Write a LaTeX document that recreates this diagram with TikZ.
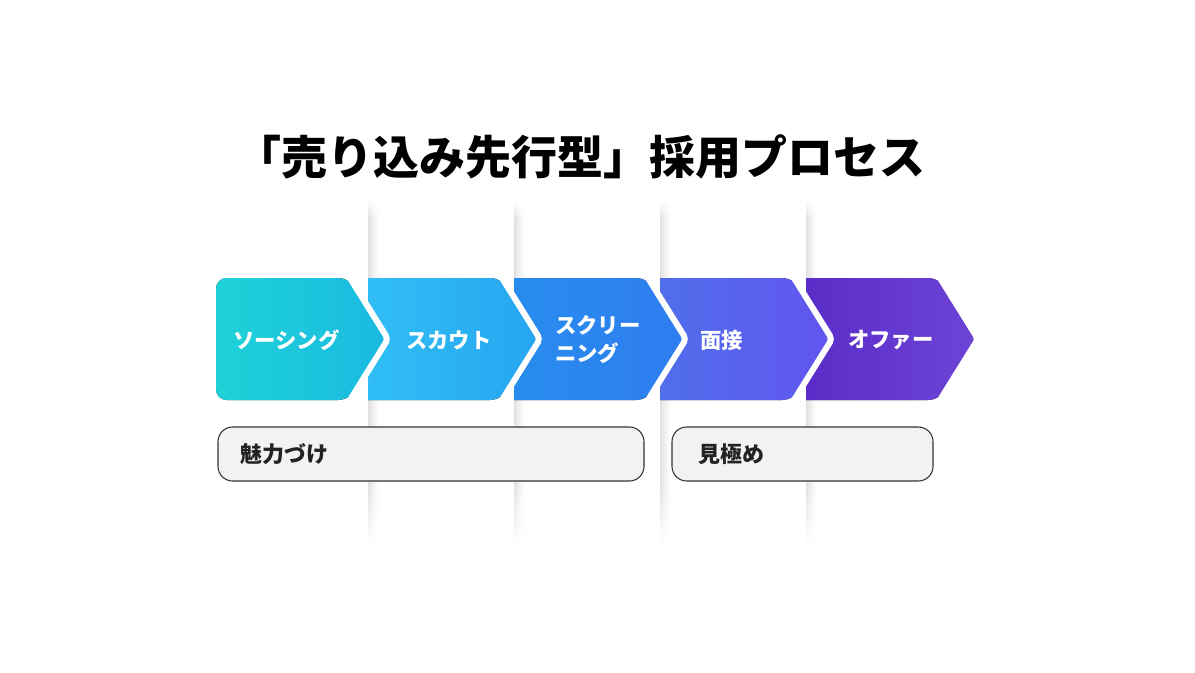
\documentclass[tikz,border=0pt]{standalone}
\usepackage{fontspec}
\setmainfont{Noto Sans CJK JP}
\usepackage{xcolor}
\usepackage{tikz}
\usetikzlibrary{positioning,calc}

\definecolor{sourcingL}{HTML}{1ED2D7}
\definecolor{sourcingR}{HTML}{19B9E1}
\definecolor{scoutL}{HTML}{30BEF5}
\definecolor{scoutR}{HTML}{26A5F0}
\definecolor{screenL}{HTML}{288CEE}
\definecolor{screenR}{HTML}{2F7DF0}
\definecolor{interviewL}{HTML}{506EEB}
\definecolor{interviewR}{HTML}{6255F0}
\definecolor{offerL}{HTML}{5A2DC8}
\definecolor{offerR}{HTML}{6E44D7}
\definecolor{boxgray}{HTML}{F2F2F2}
\definecolor{boxline}{HTML}{333333}
\definecolor{labeltext}{HTML}{222222}

\begin{document}
\begin{tikzpicture}[x=0.75pt, y=-0.75pt,
  stagetext/.style={text=white, font=\bfseries\fontsize{16}{21}\selectfont,
                    anchor=west, inner sep=0pt, align=left},
  phasebox/.style={draw=boxline, line width=0.8pt, fill=boxgray, rounded corners=11pt},
  phasetext/.style={text=labeltext, font=\bfseries\fontsize{16.5}{20}\selectfont,
                    anchor=west, inner sep=0pt},
  gap/.style={draw=white, line width=4.5pt}]

\useasboundingbox (0,0) rectangle (1195,672);

% Title
\node (title) at (580,157)
  {\bfseries\fontsize{34.5}{40}\selectfont 「売り込み先行型」採用プロセス};

% Shadow strips (gray at the left edge, fading to the right and at both ends)
\foreach \x in {368,514,660,806}{
  \foreach \i in {0,...,11}{
    \pgfmathsetmacro\stripval{12*(1-\i/12)^1.5}
    \fill[top color=white, bottom color=black!\stripval]
      (\x+\i,200) rectangle (\x+\i+1.3,218);
    \fill[black!\stripval] (\x+\i,217.5) rectangle (\x+\i+1.3,485.5);
    \fill[top color=black!\stripval, bottom color=white]
      (\x+\i,485) rectangle (\x+\i+1.3,545);
  }
}

% Stages (right to left, so each gap lies on the next one)
\fill[left color=offerL, right color=offerR]
  (806,339) -- (806,278) [rounded corners=9pt] -- (940,278) [rounded corners=3pt]
  -- (978,339) [rounded corners=9pt] -- (940,400) [sharp corners] -- (806,400) -- cycle;
\draw[gap] (940,278) [rounded corners=3pt] -- (978,339) -- (940,400);

\fill[left color=interviewL, right color=interviewR]
  (660,339) -- (660,278) [rounded corners=9pt] -- (794,278) [rounded corners=3pt]
  -- (832,339) [rounded corners=9pt] -- (794,400) [sharp corners] -- (660,400) -- cycle;
\draw[gap] (794,278) [rounded corners=3pt] -- (832,339) -- (794,400);

\fill[left color=screenL, right color=screenR]
  (514,339) -- (514,278) [rounded corners=9pt] -- (648,278) [rounded corners=3pt]
  -- (686,339) [rounded corners=9pt] -- (648,400) [sharp corners] -- (514,400) -- cycle;
\draw[gap] (648,278) [rounded corners=3pt] -- (686,339) -- (648,400);

\fill[left color=scoutL, right color=scoutR]
  (368,339) -- (368,278) [rounded corners=9pt] -- (502,278) [rounded corners=3pt]
  -- (540,339) [rounded corners=9pt] -- (502,400) [sharp corners] -- (368,400) -- cycle;
\draw[gap] (502,278) [rounded corners=3pt] -- (540,339) -- (502,400);

\fill[left color=sourcingL, right color=sourcingR]
  (216,339) [rounded corners=8pt] -- (216,278) [rounded corners=9pt] -- (350,278) [rounded corners=3pt]
  -- (388,339) [rounded corners=9pt] -- (350,400) [rounded corners=8pt] -- (216,400) [sharp corners] -- cycle;
\draw[gap] (350,278) [rounded corners=3pt] -- (388,339) -- (350,400);

% Stage labels
\node[stagetext] (sourcing)  at (233,340) {ソーシング};
\node[stagetext] (scout)     at (406,340) {スカウト};
\node[stagetext] (screening) at (555,340) {スクリー\\ニング};
\node[stagetext] (interview) at (700,340) {面接};
\node[stagetext] (offer)     at (848,340) {オファー};

% Phase boxes
\draw[phasebox] (218,427) rectangle (644,481);
\node[phasetext] (attract) at (240,454) {魅力づけ};

\draw[phasebox] (672,427) rectangle (933,481);
\node[phasetext] (assess) at (698,454) {見極め};

\end{tikzpicture}
\end{document}
